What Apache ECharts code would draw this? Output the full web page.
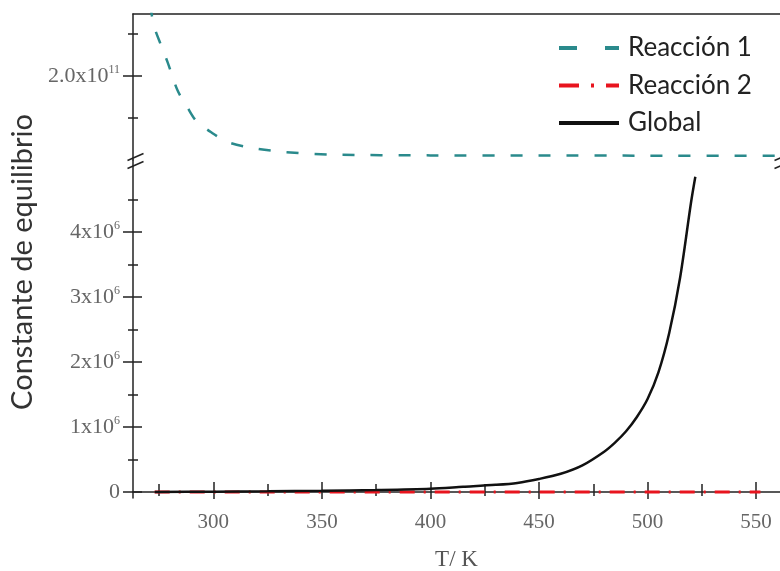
<!DOCTYPE html>
<html>
<head>
<meta charset="utf-8">
<script src="https://cdn.jsdelivr.net/npm/echarts@6/dist/echarts.min.js"></script>
<style>
  html, body { margin: 0; padding: 0; background: #fff; }
  #chart { width: 780px; height: 571px; }
</style>
</head>
<body>
<div id="chart"></div>
<script>
// Reacción 1 (upper panel, ~1e11)
const tempR1 = [271, 272.5, 276, 279, 283.5, 288, 292, 299, 307, 319, 333, 354, 400, 450, 500, 561]
const valR1 = [2.85e11, 2.61e11, 2.36e11, 2.16e11, 1.83e11, 1.63e11, 1.47e11, 1.33e11, 1.21e11, 1.14e11, 1.095e11, 1.065e11, 1.055e11, 1.053e11, 1.052e11, 1.052e11]

// Reacción 2 (lower panel, stays close to 0)
const tempR2 = [273, 300, 350, 400, 450, 500, 552]
const valR2 = [0, 0, 0, 0, 0, 0, 0]

// Global (lower panel)
const tempGlobal = [273, 300, 325, 350, 375, 400, 415, 430, 440, 450, 460, 470, 480, 485, 490, 495, 500, 505, 510, 515, 520, 522]
const valGlobal = [0, 0.005e6, 0.01e6, 0.018e6, 0.03e6, 0.05e6, 0.08e6, 0.11e6, 0.14e6, 0.2e6, 0.28e6, 0.41e6, 0.62e6, 0.76e6, 0.93e6, 1.15e6, 1.43e6, 1.84e6, 2.45e6, 3.3e6, 4.45e6, 4.85e6]

// tick values
const xMajor = [300, 350, 400, 450, 500, 550]
const xMinor = [275, 325, 375, 425, 475, 525]
const yLowMajor = [0, 1e6, 2e6, 3e6, 4e6]
const yLowMinor = [0.5e6, 1.5e6, 2.5e6, 3.5e6, 4.5e6]
const yUpMajor = [2.0e11]
const yUpMinor = [1.5e11, 2.5e11]

const toPairs = (xs, ys) => xs.map((x, i) => [x, ys[i]])

const serif = '"Liberation Serif", "DejaVu Serif", serif'
const sans = 'Lato, "Open Sans", sans-serif'
const axisColor = '#222'
const labelColor = '#666'

const X_MIN = 263
const X_MAX = 561
const YLOW_MIN = -0.0923e6
const YLOW_MAX = 5.108e6
const YUP_MIN = 1.0e11
const YUP_MAX = 2.738e11

const chart = echarts.init(document.getElementById('chart'), null, { renderer: 'canvas' })

const supRich = {
  n: { fontFamily: serif, fontSize: 22, color: labelColor },
  s: { fontFamily: serif, fontSize: 12, color: labelColor, padding: [0, 0, 13, 0] }
}

// extra axis that only draws ticks (for crossing major/minor ticks)
function tickX(gridIndex, values, inside, length) {
  return {
    type: 'value', gridIndex, position: 'bottom', min: X_MIN, max: X_MAX,
    splitLine: { show: false }, axisLine: { show: false }, axisLabel: { show: false },
    axisTick: { show: true, inside, length, customValues: values, lineStyle: { color: axisColor, width: 1.5 } }
  }
}
function tickY(gridIndex, min, max, values, inside, length) {
  return {
    type: 'value', gridIndex, position: 'left', min, max,
    splitLine: { show: false }, axisLine: { show: false }, axisLabel: { show: false },
    axisTick: { show: true, inside, length, customValues: values, lineStyle: { color: axisColor, width: 1.5 } }
  }
}

chart.setOption({
  backgroundColor: '#fff',
  animation: false,
  grid: [
    { left: 133, right: 0, top: 14, height: 146, outerBoundsMode: 'none' },
    { left: 133, right: 0, top: 160, bottom: 73, outerBoundsMode: 'none' }
  ],
  legend: {
    orient: 'vertical',
    left: 552,
    top: 30,
    itemWidth: 60,
    itemHeight: 20,
    itemGap: 11.5,
    itemStyle: { opacity: 0 },
    lineStyle: { width: 4 },
    textStyle: { fontFamily: sans, fontSize: 26, lineHeight: 26, color: '#222', padding: [0, 0, 0, 4] },
    data: [
      { name: 'Reacción 1', lineStyle: { type: [18, 28] } },
      { name: 'Reacción 2', lineStyle: { type: [20, 12, 3, 12] } },
      { name: 'Global' }
    ]
  },
  xAxis: [
    // upper panel: only the top frame line
    {
      type: 'value', gridIndex: 0, position: 'top', min: X_MIN, max: X_MAX,
      splitLine: { show: false },
      axisLine: { show: true, lineStyle: { color: axisColor, width: 1.5 } },
      axisTick: { show: false },
      axisLabel: { show: false }
    },
    // lower panel: main axis with labels
    {
      type: 'value', gridIndex: 1, position: 'bottom', min: X_MIN, max: X_MAX,
      name: 'T/ K',
      nameLocation: 'middle',
      nameGap: 50,
      nameTextStyle: { fontFamily: serif, fontSize: 23, color: '#555' },
      splitLine: { show: false },
      axisLine: { show: true, lineStyle: { color: axisColor, width: 1.5 } },
      axisTick: { show: true, inside: false, length: 7, customValues: xMajor, lineStyle: { color: axisColor, width: 1.5 } },
      axisLabel: { customValues: xMajor, margin: 14, fontFamily: serif, fontSize: 21, color: labelColor }
    },
    tickX(1, xMajor, true, 10),
    tickX(1, xMinor, true, 8),
    tickX(1, xMinor, false, 4)
  ],
  yAxis: [
    {
      type: 'value', gridIndex: 0, min: YUP_MIN, max: YUP_MAX,
      splitLine: { show: false },
      axisLine: { show: true, lineStyle: { color: axisColor, width: 1.5 } },
      axisTick: { show: true, inside: false, length: 10, customValues: yUpMajor, lineStyle: { color: axisColor, width: 1.5 } },
      axisLabel: {
        customValues: yUpMajor,
        margin: 13,
        formatter: () => '{n|2.0x10}{s|11}',
        rich: supRich
      }
    },
    {
      type: 'value', gridIndex: 1, min: YLOW_MIN, max: YLOW_MAX,
      splitLine: { show: false },
      axisLine: { show: true, lineStyle: { color: axisColor, width: 1.5 } },
      axisTick: { show: true, inside: false, length: 10, customValues: yLowMajor, lineStyle: { color: axisColor, width: 1.5 } },
      axisLabel: {
        customValues: yLowMajor,
        margin: 13,
        formatter: function(value) {
          if (value === 0) {
            return '{n|0}'
          }
          return '{n|' + Math.round(value / 1e6) + 'x10}{s|6}'
        },
        rich: supRich
      }
    },
    tickY(0, YUP_MIN, YUP_MAX, yUpMajor, true, 9),
    tickY(0, YUP_MIN, YUP_MAX, yUpMinor, true, 5),
    tickY(0, YUP_MIN, YUP_MAX, yUpMinor, false, 5),
    tickY(1, YLOW_MIN, YLOW_MAX, yLowMajor, true, 9),
    tickY(1, YLOW_MIN, YLOW_MAX, yLowMinor, true, 5),
    tickY(1, YLOW_MIN, YLOW_MAX, yLowMinor, false, 5)
  ],
  series: [
    {
      name: 'Reacción 1',
      type: 'line',
      xAxisIndex: 0,
      yAxisIndex: 0,
      smooth: 0.3,
      symbol: 'none',
      data: toPairs(tempR1, valR1),
      itemStyle: { color: '#2a8a8c' },
      lineStyle: { color: '#2a8a8c', width: 2.5, type: [12, 16] }
    },
    {
      name: 'Reacción 2',
      type: 'line',
      xAxisIndex: 1,
      yAxisIndex: 1,
      symbol: 'none',
      data: toPairs(tempR2, valR2),
      itemStyle: { color: '#e8141e' },
      lineStyle: { color: '#e8141e', width: 3, type: [15, 9, 2, 9] }
    },
    {
      name: 'Global',
      type: 'line',
      xAxisIndex: 1,
      yAxisIndex: 1,
      smooth: 0.3,
      symbol: 'none',
      data: toPairs(tempGlobal, valGlobal),
      itemStyle: { color: '#111' },
      lineStyle: { color: '#111', width: 2.5 }
    }
  ],
  graphic: [
    {
      type: 'text',
      x: 8,
      y: 262,
      rotation: Math.PI / 2,
      style: { text: 'Constante de equilibrio', font: '29px ' + sans, fill: '#333', align: 'center', verticalAlign: 'top' }
    },
    {
      type: 'group',
      left: 125,
      top: 151,
      children: [
        { type: 'line', shape: { x1: 0, y1: 8, x2: 16, y2: 1 }, style: { stroke: axisColor, lineWidth: 1.5 } },
        { type: 'line', shape: { x1: 0, y1: 16, x2: 16, y2: 9 }, style: { stroke: axisColor, lineWidth: 1.5 } }
      ]
    },
    {
      type: 'group',
      left: 772,
      top: 151,
      children: [
        { type: 'line', shape: { x1: 0, y1: 8, x2: 16, y2: 1 }, style: { stroke: axisColor, lineWidth: 1.5 } },
        { type: 'line', shape: { x1: 0, y1: 16, x2: 16, y2: 9 }, style: { stroke: axisColor, lineWidth: 1.5 } }
      ]
    }
  ]
})
</script>
</body>
</html>
